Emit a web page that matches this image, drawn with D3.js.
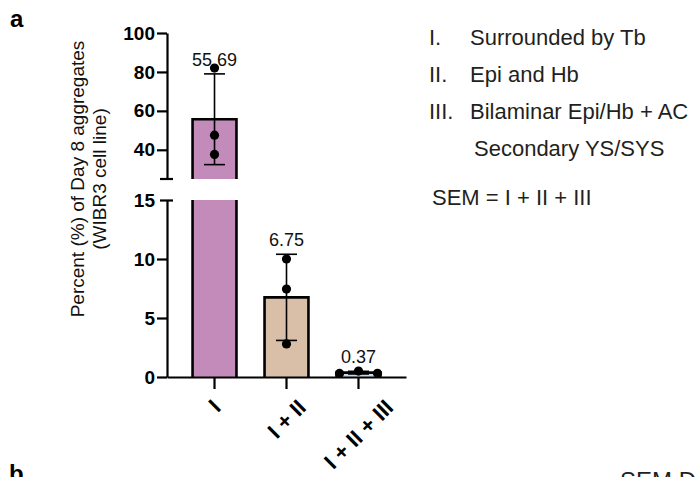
<!DOCTYPE html>
<html>
<head>
<meta charset="utf-8">
<script src="https://cdn.jsdelivr.net/npm/d3@7"></script>
<style>
  html, body { margin: 0; padding: 0; background: #fff; }
  svg { display: block; font-family: "Liberation Sans", Arial, Helvetica, sans-serif; }
</style>
</head>
<body>
<div id="chart"></div>
<script>
const categories = ['I', 'I + II', 'I + II + III'];
const means = [55.69, 6.75, 0.37];
const replicates = [[82, 47.5, 37.6], [10, 7.45, 2.8], [0.3, 0.5, 0.31]];
const upperTicks = [40, 60, 80, 100];
const lowerTicks = [0, 5, 10, 15];
const legendNumerals = ['I.', 'II.', 'III.'];
const legendTexts = ['Surrounded by Tb', 'Epi and Hb', 'Bilaminar Epi/Hb + AC'];
const legendContinuation = 'Secondary YS/SYS';
const semNote = 'SEM = I + II + III';
const barColors = ['#c28bb9', '#d9bea8', '#c9d9e6'];

const width = 699, height = 477;
const breakLow = 15, breakHigh = 25;

const svg = d3.select('#chart').append('svg')
  .attr('width', width)
  .attr('height', height);

svg.append('rect').attr('width', width).attr('height', height).attr('fill', '#fff');

// scales: broken y axis, upper part [25,100], lower part [0,15]
const x = d3.scaleBand().domain(categories).range([167, 406]).paddingInner(0.39).paddingOuter(0.355);
const yTop = d3.scaleLinear().domain([breakHigh, 100]).range([179, 33]);
const yBot = d3.scaleLinear().domain([0, breakLow]).range([377, 200]);
const yPos = v => v >= breakHigh ? yTop(v) : yBot(v);
const axisX = 167;

// bars
const bars = svg.append('g');
means.forEach((m, i) => {
  const x0 = x(categories[i]), x1 = x0 + x.bandwidth();
  const segs = m > breakHigh
    ? [{ top: yTop(m), bottom: yTop(breakHigh), edge: true }, { top: yBot(breakLow), bottom: yBot(0), edge: false }]
    : [{ top: yBot(m), bottom: yBot(0), edge: true }];
  segs.forEach(s => {
    bars.append('rect')
      .attr('x', x0).attr('y', s.top)
      .attr('width', x1 - x0).attr('height', s.bottom - s.top)
      .attr('fill', barColors[i]);
    const p = d3.path();
    p.moveTo(x0, s.bottom); p.lineTo(x0, s.top);
    if (s.edge) p.lineTo(x1, s.top); else p.moveTo(x1, s.top);
    p.lineTo(x1, s.bottom);
    bars.append('path').attr('d', p.toString())
      .attr('fill', 'none').attr('stroke', '#000').attr('stroke-width', 2.6);
  });
});

// error bars (SD of replicates)
const err = svg.append('g').attr('stroke', '#000').attr('stroke-width', 1.6);
const capHalf = 10.5;
means.forEach((m, i) => {
  const sd = d3.deviation(replicates[i]);
  const cx = x(categories[i]) + x.bandwidth() / 2;
  const hi = yPos(m + sd), lo = yPos(m - sd);
  err.append('line').attr('x1', cx).attr('x2', cx).attr('y1', hi).attr('y2', lo);
  [hi, lo].forEach(y => err.append('line').attr('x1', cx - capHalf).attr('x2', cx + capHalf).attr('y1', y).attr('y2', y));
  svg.append('text')
    .attr('x', cx).attr('y', hi - 8)
    .attr('text-anchor', 'middle')
    .attr('font-size', 18)
    .attr('fill', '#111')
    .text(d3.format('.2f')(m));
});

// replicate points, dodged sideways when they overlap
const r = 4.6;
const dots = svg.append('g');
replicates.forEach((vals, i) => {
  const cx = x(categories[i]) + x.bandwidth() / 2;
  const pts = vals.map((v, k) => ({ v, k, y: yPos(v) }));
  const sorted = pts.slice().sort((a, b) => a.y - b.y);
  const clusters = [];
  sorted.forEach(p => {
    const last = clusters[clusters.length - 1];
    if (last && p.y - last[last.length - 1].y < 2 * r) last.push(p); else clusters.push([p]);
  });
  clusters.forEach(c => {
    c.sort((a, b) => a.k - b.k);
    c.forEach((p, j) => { p.dx = (j - (c.length - 1) / 2) * 19; });
  });
  pts.forEach(p => dots.append('circle').attr('cx', cx + p.dx).attr('cy', p.y).attr('r', r).attr('fill', '#000'));
});

// y axis, upper part
const gTop = svg.append('g').attr('transform', `translate(${axisX},0)`)
  .call(d3.axisLeft(yTop).tickValues(upperTicks).tickSize(10).tickSizeOuter(0).tickPadding(2));
// y axis, lower part
const gBot = svg.append('g').attr('transform', `translate(${axisX},0)`)
  .call(d3.axisLeft(yBot).tickValues(lowerTicks).tickSize(10).tickSizeOuter(0).tickPadding(2));
[gTop, gBot].forEach(g => {
  g.selectAll('path, line').attr('stroke', '#000').attr('stroke-width', 2.2);
  g.selectAll('text').attr('font-size', 19).attr('font-weight', 'bold').attr('fill', '#000')
    .attr('font-family', '"Liberation Sans", Arial, sans-serif');
});
gBot.selectAll('.tick').filter(d => d === breakLow).select('line').attr('x1', -7).attr('x2', 6);
gTop.append('line').attr('x1', -7).attr('x2', 6).attr('y1', yTop(breakHigh)).attr('y2', yTop(breakHigh))
  .attr('stroke', '#000').attr('stroke-width', 2.2);

// x axis
const gX = svg.append('g').attr('transform', `translate(0,${yBot(0)})`)
  .call(d3.axisBottom(x).tickSize(12).tickSizeOuter(0).tickFormat(''));
gX.selectAll('path, line').attr('stroke', '#000').attr('stroke-width', 2.2);

// rotated category labels
const fs = 22, capH = 15.5, c45 = Math.SQRT1_2;
categories.forEach(cat => {
  const t = svg.append('text')
    .attr('font-size', fs).attr('font-weight', 'bold').attr('text-anchor', 'end')
    .text(cat);
  const L = t.node().getComputedTextLength();
  const cx = x(cat) + x.bandwidth() / 2;
  const ex = cx + c45 * (L + capH) / 2;
  const ey = 398 + c45 * capH;
  t.attr('transform', `translate(${ex},${ey}) rotate(-45)`);
});

// y title
const yTitle = svg.append('g').attr('font-size', 19).attr('fill', '#111');
yTitle.append('text').attr('transform', 'translate(84,179) rotate(-90)')
  .attr('text-anchor', 'middle').text('Percent (%) of Day 8 aggregates');
yTitle.append('text').attr('transform', 'translate(106,179) rotate(-90)')
  .attr('text-anchor', 'middle').text('(WIBR3 cell line)');

// legend
const leg = svg.append('g').attr('font-size', 22).attr('fill', '#231f20');
legendTexts.forEach((txt, i) => {
  const y = 45 + i * 37;
  leg.append('text').attr('x', 429).attr('y', y).text(legendNumerals[i]);
  leg.append('text').attr('x', 470).attr('y', y).text(txt);
});
leg.append('text').attr('x', 474).attr('y', 45 + 3 * 37 - 0.5).text(legendContinuation);
leg.append('text').attr('x', 432).attr('y', 205).text(semNote);

// panel letters (next panel is cut by the bottom edge, as in the source)
svg.append('text').attr('x', 10).attr('y', 27).attr('font-size', 24).attr('font-weight', 'bold').text('a');
svg.append('text').attr('x', 9).attr('y', 482).attr('font-size', 24).attr('font-weight', 'bold').text('b');
svg.append('text').attr('x', 620).attr('y', 489).attr('font-size', 24).attr('fill', '#231f20').text('SEM D');
</script>
</body>
</html>
